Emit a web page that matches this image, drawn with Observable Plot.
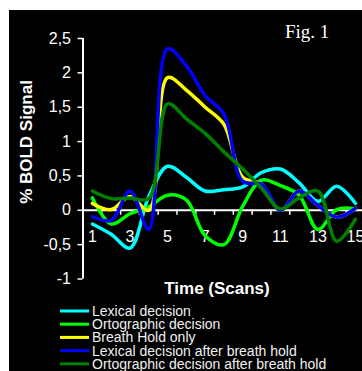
<!DOCTYPE html>
<html><head><meta charset="utf-8">
<script src="https://cdn.jsdelivr.net/npm/d3@7"></script>
<script src="https://cdn.jsdelivr.net/npm/@observablehq/plot@0.6"></script>
<style>
html,body{margin:0;padding:0;background:#fff;}
#wrap{position:relative;width:362px;height:371px;overflow:hidden;background:#fff;}
#bg{position:absolute;left:9px;top:10px;right:0;bottom:0;background:#000;}
#chart,#over{position:absolute;left:0;top:0;}
</style></head>
<body>
<div id="wrap"><div id="bg"></div><div id="chart"></div><svg id="over" width="362" height="371"></svg></div>
<script>
// ---- data ----
const scans = [1,2,3,4,5,6,7,8,9,10,11,12,13,14,15];
const seriesNames = ["Lexical decision","Ortographic decision","Breath Hold only","Lexical decision after breath hold","Ortographic decision after breath hold"];
const seriesColors = ["#00ffff","#00ff00","#ffff00","#0000ff","#008000"];
const lexical      = [-0.20,-0.35,-0.55, 0.20, 0.64, 0.48, 0.28, 0.30, 0.34, 0.55, 0.60, 0.40, 0.13, 0.35, 0.10];
const ortographic  = [ 0.18,-0.20,-0.05, 0.05, 0.22, 0.15,-0.37,-0.50, 0.06, 0.44, 0.36, 0.22,-0.28, 0.01, 0.02];
const breathHold   = [ 0.10, 0.01, 0.20, 0.00, 1.93, 1.75, 1.50, 1.25, 0.48, 0.38, 0.00, 0.28, 0.07,-0.10, 0.03];
const lexicalBH    = [-0.09,-0.15, 0.28,-0.28, 2.35, 2.10, 1.67, 1.40, 0.42, 0.38, 0.00, 0.28, 0.07,-0.10, 0.03];
const ortographicBH= [ 0.28, 0.17, 0.18, 0.17, 1.55, 1.33, 1.12, 0.85, 0.60, 0.32, 0.02, 0.18, 0.28,-0.45,-0.13];
const yTicks = [-1,-0.5,0,0.5,1,1.5,2,2.5];
const xTickLabels = [1,3,5,7,9,11,13,15];
const xTickMarks = [1.5,2.5,3.5,4.5,5.5,6.5,7.5,8.5,9.5,10.5,11.5,12.5,13.5,14.5];
const yTitle = "% BOLD Signal";
const xTitle = "Time (Scans)";
const figLabel = "Fig. 1";

const allSeries = [lexical, ortographic, breathHold, lexicalBH, ortographicBH];
const rows = [];
allSeries.forEach((vals, s) => vals.forEach((v, i) => rows.push({scan: scans[i], value: v, series: seriesNames[s]})));

const chart = Plot.plot({
  width: 362, height: 371,
  marginLeft: 82.5, marginRight: 0, marginTop: 38, marginBottom: 92.5,
  style: {background: "transparent", color: "white", overflow: "hidden", fontFamily: "Arial, 'Liberation Sans', sans-serif"},
  x: {domain: [0.5, 15.5], range: [82.5, 364.4], axis: null},
  y: {domain: [-1, 2.5], range: [278.5, 38]},
  color: {domain: seriesNames, range: seriesColors},
  marks: [
    Plot.axisY(yTicks, {anchor: "left", tickSize: 5, tickPadding: 7, strokeWidth: 1.5,
      tickFormat: d => String(d).replace(".", ","), fontSize: 16, label: null}),
    Plot.ruleX([0.5], {y1: -1, y2: 2.5, stroke: "white", strokeWidth: 2}),
    Plot.ruleY([0], {x1: 0.5, x2: 15.5, stroke: "white", strokeWidth: 2}),
    Plot.ruleX(xTickMarks, {x: d => d, y1: 0, y2: 0, insetBottom: -5, stroke: "white", strokeWidth: 1.5}),
    Plot.text(xTickLabels, {x: d => d, y: 0, dy: 27, text: d => String(d), fill: "white", fontSize: 16}),
    Plot.line(rows, {x: "scan", y: "value", z: "series", stroke: "series", strokeWidth: 3.5, curve: "catmull-rom"})
  ]
});
document.getElementById("chart").appendChild(chart);

// ---- overlay texts & legend ----
const over = d3.select("#over");
over.append("text").attr("x", 285).attr("y", 38).attr("fill", "white")
  .attr("font-family", "'Liberation Serif','Times New Roman',serif").attr("font-size", 19).text(figLabel);
over.append("text").attr("transform", "translate(32,142) rotate(-90)").attr("text-anchor", "middle")
  .attr("fill", "white").attr("font-family", "Arial,'Liberation Sans',sans-serif").attr("font-weight", "bold")
  .attr("font-size", 17).text(yTitle);
over.append("text").attr("x", 217).attr("y", 294).attr("text-anchor", "middle")
  .attr("fill", "white").attr("font-family", "Arial,'Liberation Sans',sans-serif").attr("font-weight", "bold")
  .attr("font-size", 17).text(xTitle);
const lg = over.append("g");
seriesNames.forEach((name, i) => {
  const y = 311 + i * 13.2;
  lg.append("line").attr("x1", 60).attr("x2", 89).attr("y1", y).attr("y2", y)
    .attr("stroke", seriesColors[i]).attr("stroke-width", 3);
  lg.append("text").attr("x", 92).attr("y", y).attr("dy", "0.35em").attr("fill", "#f0f0f0")
    .attr("font-family", "Arial,'Liberation Sans',sans-serif").attr("font-size", 14).text(name);
});
</script>
</body></html>
